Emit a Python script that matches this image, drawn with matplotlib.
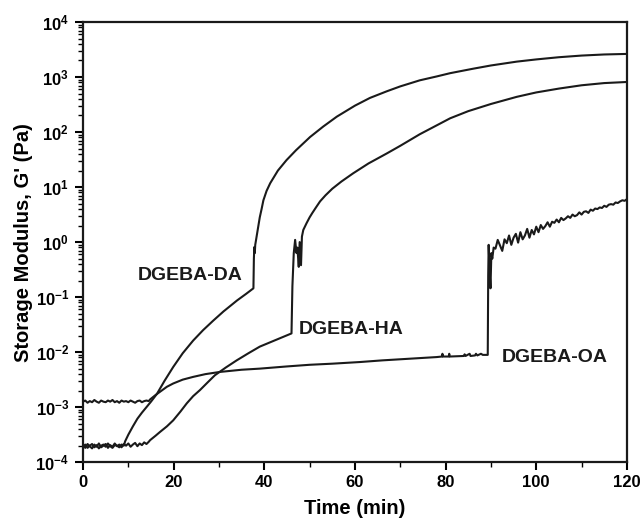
import matplotlib

matplotlib.use("Agg")
import matplotlib.pyplot as plt
import numpy as np
from matplotlib.ticker import FixedLocator, FuncFormatter, LogLocator, MultipleLocator

# values, G' given as log10(Pa)
da_time = [0, 0.5, 1, 1.5, 2, 2.5, 3, 3.5, 4, 4.5, 5, 5.5, 6, 6.5, 7, 7.5, 8, 8.5, 9,
           9.3, 10, 11, 12, 13, 14, 15, 16.3, 18, 19.9, 22, 24.3, 26.5, 28.7, 31, 34, 36,
           37.6, 37.7, 37.8, 37.9, 38.0, 38.3, 38.7, 39, 39.4, 39.8, 40.5, 41.3, 43, 44.9,
           47, 50.1, 53, 56, 60, 63.3, 67, 70, 74.3, 78, 81, 86, 90, 95.7, 100, 105, 110,
           115, 120]
da_log_g = [-3.72, -3.68, -3.74, -3.70, -3.67, -3.73, -3.69, -3.75, -3.70, -3.68, -3.72,
            -3.66, -3.71, -3.74, -3.69, -3.70, -3.73, -3.68, -3.70,
            -3.62, -3.50, -3.35, -3.21, -3.10, -3.00, -2.90, -2.76, -2.52, -2.27, -2.02,
            -1.79, -1.60, -1.43, -1.26, -1.06, -0.94,
            -0.84, -0.30, -0.09, -0.20, -0.05, 0.10, 0.30, 0.45, 0.60, 0.76, 0.93, 1.07,
            1.30, 1.49, 1.67, 1.91, 2.10, 2.28, 2.48, 2.62, 2.74, 2.83, 2.94, 3.01, 3.07,
            3.15, 3.21, 3.28, 3.32, 3.36, 3.39, 3.41, 3.42]

ha_time = [0, 0.5, 1, 1.5, 2, 2.5, 3, 3.5, 4, 4.5, 5, 5.5, 6, 6.5, 7, 7.5, 8, 8.5, 9,
           9.5, 10, 10.5, 11, 11.5, 12, 12.5, 13, 13.5, 14, 14.5,
           14.8, 16, 17, 18.5, 19.9, 21.5, 22.9, 24.3, 25.8, 27.5, 29.1, 31.5, 33.9, 36.5,
           39, 42.5, 46.0, 46.2, 46.5, 46.8, 47.1, 47.3, 47.6, 47.8, 48.1, 48.3, 48.6,
           49.3, 50, 50.6, 51.4, 52.3, 53.5, 55, 57, 59.6, 63, 67, 70, 74.3, 78, 81, 85,
           90, 95.7, 100, 105, 110, 115, 120]
ha_log_g = [-3.69, -3.74, -3.67, -3.71, -3.75, -3.68, -3.72, -3.66, -3.73, -3.70, -3.67,
            -3.74, -3.69, -3.72, -3.66, -3.71, -3.68, -3.73, -3.67, -3.70, -3.66, -3.72,
            -3.68, -3.65, -3.71, -3.66, -3.69, -3.64, -3.67, -3.63,
            -3.60, -3.52, -3.45, -3.35, -3.24, -3.08, -2.93, -2.80, -2.69, -2.55, -2.42,
            -2.28, -2.15, -2.02, -1.90, -1.78, -1.66, -0.80, -0.20, 0.04, -0.20, -0.10,
            -0.45, 0.00, -0.42, 0.10, 0.22, 0.34, 0.45, 0.53, 0.63, 0.74, 0.85, 0.97,
            1.10, 1.25, 1.43, 1.61, 1.75, 1.96, 2.12, 2.25, 2.38, 2.51, 2.64, 2.72, 2.79,
            2.85, 2.89, 2.91]

oa_time = [0, 0.5, 1, 1.5, 2, 2.5, 3, 3.5, 4, 4.5, 5, 5.5, 6, 6.5, 7, 7.5, 8, 8.5, 9,
           9.5, 10, 10.5, 11, 11.5, 12, 12.5, 13, 13.5, 14, 14.5,
           14.8, 16, 17, 18.5, 19.9, 22, 24.3, 27, 30.2, 35, 39, 45, 50, 55, 61.1, 66, 72,
           78, 79.2, 79.3, 79.4, 80.7, 80.8, 80.9, 84, 84.2, 84.4, 85.3, 85.5, 86.5, 86.7,
           87, 87.8, 88.2, 89.3, 89.4, 89.5, 89.7, 89.9, 90.1, 90.3, 90.6,
           91.0, 91.5, 92.0, 92.5, 93.0, 93.5, 94.0, 94.5, 95.0, 95.5, 96.0, 96.5, 97.0,
           97.5, 98.0, 98.5, 99.0, 99.5, 100.0, 100.5, 101.0, 101.5, 102.0, 102.5, 103.0,
           103.5, 104.0, 104.5, 105.0, 105.5, 106.0, 106.5, 107.0, 107.5, 108.0, 108.5,
           109.0, 109.5, 110.0, 110.5, 111.0, 111.5, 112.0, 112.5, 113.0, 113.5, 114.0,
           114.5, 115.0, 115.5, 116.0, 116.5, 117.0, 117.5, 118.0, 118.5, 119.0, 119.5,
           120.0]
oa_log_g = [-2.90, -2.88, -2.92, -2.89, -2.91, -2.87, -2.90, -2.92, -2.88, -2.90, -2.91,
            -2.88, -2.90, -2.87, -2.91, -2.89, -2.92, -2.88, -2.90, -2.89, -2.91, -2.88,
            -2.90, -2.92, -2.89, -2.88, -2.91, -2.89, -2.88, -2.89,
            -2.86, -2.78, -2.72, -2.63, -2.57, -2.50, -2.45, -2.40, -2.36, -2.32, -2.30,
            -2.26, -2.23, -2.21, -2.18, -2.15, -2.12, -2.09, -2.08, -2.03, -2.08, -2.08,
            -2.03, -2.08, -2.07, -2.04, -2.07, -2.03, -2.07, -2.06, -2.03, -2.06, -2.03,
            -2.05, -2.05, -0.60, -0.05, -0.50, -0.84, -0.20, -0.30, -0.10,
            -0.12, 0.04, -0.06, -0.16, 0.05, -0.02, 0.12, -0.05, 0.08, 0.15, -0.01, 0.18,
            0.05, 0.12, 0.24, 0.08, 0.22, 0.14, 0.28, 0.18, 0.31, 0.24, 0.29, 0.36, 0.28,
            0.37, 0.35, 0.41, 0.36, 0.44, 0.40, 0.43, 0.47, 0.44, 0.50, 0.47, 0.49, 0.54,
            0.50, 0.55, 0.56, 0.53, 0.59, 0.57, 0.61, 0.60, 0.63, 0.62, 0.66, 0.64, 0.68,
            0.69, 0.68, 0.72, 0.71, 0.74, 0.76, 0.75, 0.78]

series_names = ["DGEBA-DA", "DGEBA-HA", "DGEBA-OA"]
label_time = [35.3, 47.6, 92.4]
label_g = [0.251, 0.0257, 0.0079]
label_align = ["right", "left", "left"]

x_ticks = [0, 20, 40, 60, 80, 100, 120]
y_exponents = [-4, -3, -2, -1, 0, 1, 2, 3, 4]

plt.rcParams["font.family"] = ["Liberation Sans", "DejaVu Sans"]
plt.rcParams["mathtext.fontset"] = "custom"
plt.rcParams["mathtext.bf"] = "Liberation Sans:bold"
plt.rcParams["mathtext.rm"] = "Liberation Sans"

line_color = "#1a1a1a"

fig = plt.figure(figsize=(6.41, 5.24), dpi=100)
ax = fig.add_axes([0.1295, 0.118, 0.8485, 0.840])

for t, lg in [(da_time, da_log_g), (ha_time, ha_log_g), (oa_time, oa_log_g)]:
    ax.plot(t, 10 ** np.asarray(lg), color=line_color, lw=1.5)

for name, tx, gy, ha in zip(series_names, label_time, label_g, label_align):
    ax.text(tx, gy, name, ha=ha, va="center", fontsize=14, fontweight="bold",
            color=line_color)

ax.set_yscale("log")
ax.set_xlim(0, 120)
ax.set_ylim(1e-4, 1e4)

ax.xaxis.set_major_locator(FixedLocator(x_ticks))
ax.xaxis.set_minor_locator(MultipleLocator(10))
ax.yaxis.set_major_locator(FixedLocator([10.0 ** e for e in y_exponents]))
ax.yaxis.set_minor_locator(LogLocator(base=10, subs=np.arange(2, 10), numticks=20))
ax.yaxis.set_major_formatter(
    FuncFormatter(lambda v, _: r"$\mathbf{10^{%d}}$" % round(np.log10(v)))
)
ax.xaxis.set_major_formatter(FuncFormatter(lambda v, _: f"{v:g}"))

ax.tick_params(which="major", direction="out", length=6, width=1.5, labelsize=12)
ax.tick_params(which="minor", direction="out", length=3.5, width=1.0)
ax.tick_params(axis="y", which="major", pad=4)
ax.tick_params(top=False, right=False)
for lab in ax.get_xticklabels():
    lab.set_fontweight("bold")
for spine in ax.spines.values():
    spine.set_linewidth(1.6)
    spine.set_color(line_color)

ax.set_xlabel("Time (min)", fontsize=14.5, fontweight="bold", labelpad=6)
ax.set_ylabel("Storage Modulus, G' (Pa)", fontsize=14.5, fontweight="bold", labelpad=2)

fig.savefig("out.png", dpi=100)
